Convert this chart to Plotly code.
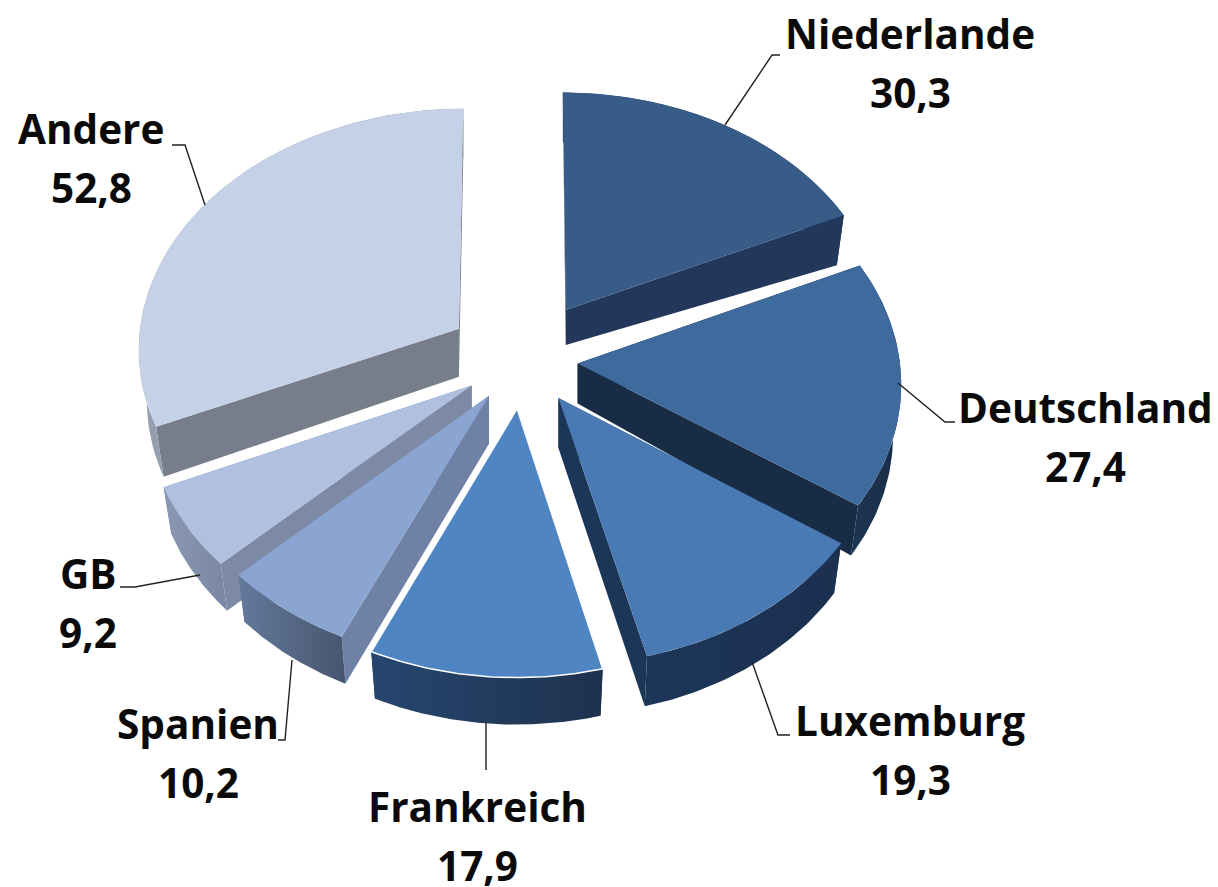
import math
import plotly.graph_objects as go

categories = ["Niederlande", "Deutschland", "Luxemburg", "Frankreich", "Spanien", "GB", "Andere"]
values = [30.3, 27.4, 19.3, 17.9, 10.2, 9.2, 52.8]
value_labels = ["30,3", "27,4", "19,3", "17,9", "10,2", "9,2", "52,8"]
explode = [0.25, 0.17, 0.19, 0.20, 0.18, 0.19, 0.24]
top_colors = ["#375C87", "#3F6A9E", "#4A7AB3", "#5085C3", "#8AA5D1", "#B0C0E0", "#C5D1E6"]
radial_colors = ["#22375A", "#182C45", "#1C3658", "#1C3050", "#6F82A5", "#7E8AA5", "#777D8A"]
rim_from = ["#22375A", "#1E3654", "#1C3658", "#26466F", "#64799C", "#8A98B3", "#95A0B0"]
rim_to = ["#22375A", "#182C45", "#1C3050", "#1E324E", "#47566F", "#7A87A2", "#7E8492"]
apex_depth = [35, 40, 50, 48, 48, 48, 48]
outer_depth = [50, 50, 50, 47, 47, 47, 50]
top_edge = [0, 0, 0, 1.5, 0, 0, 0]
draw_order = [0, 6, 1, 5, 4, 2, 3]

label_x = [910, 1085, 910, 477, 198, 88, 91]
label_y = [33, 407, 720, 806, 723, 573, 128]
value_gap = 59
leader_x = [[725, 772, 780], [898, 945, 955], [752, 778, 790], [486, 486], [292, 285, 278], [200, 135, 120], [205, 185, 172]]
leader_y = [[125, 55, 55], [383, 422, 422], [662, 735, 735], [722, 770], [660, 740, 740], [575, 587, 587], [205, 145, 145]]

CX, CY, RX, RY, PERSP = 523, 360, 322, 241, 0.075
XS = 0.975


def project(x, y):
    s = 1 / (1 + PERSP * y)
    return CX + RX * x * s, CY - RY * y * s


total = sum(values)
fig = go.Figure()
starts, a = [], 0.0
for v in values:
    starts.append(a)
    a += v / total * 2 * math.pi


def poly(xs, ys, color, gradient=None, edge=0):
    kw = dict(fillcolor=color)
    if gradient:
        kw = dict(fillgradient=dict(type="horizontal", colorscale=[[0, gradient[0]], [1, gradient[1]]]))
    fig.add_trace(go.Scatter(x=xs, y=ys, mode="lines", line=dict(width=edge, color="white"), fill="toself",
                             hoverinfo="skip", showlegend=False, **kw))


for i in draw_order:
    t0 = starts[i]
    t1 = t0 + values[i] / total * 2 * math.pi
    bis = (t0 + t1) / 2
    ex, ey = explode[i] * math.sin(bis), explode[i] * math.cos(bis)
    ax, ay = project(ex, ey)
    n = 60
    arc = [project(ex + math.sin(t0 + (t1 - t0) * k / n), ey + math.cos(t0 + (t1 - t0) * k / n)) for k in range(n + 1)]
    arc_low = [(ax + (p[0] - ax) * XS, p[1] + outer_depth[i]) for p in arc]
    apex_low = (ax, ay + apex_depth[i])
    for end, end_low in ((arc[0], arc_low[0]), (arc[-1], arc_low[-1])):
        xs = [ax, end[0], end_low[0], apex_low[0], ax]
        ys = [ay, end[1], end_low[1], apex_low[1], ay]
        poly(xs, ys, radial_colors[i])
    rx = [p[0] for p in arc] + [p[0] for p in reversed(arc_low)]
    ry = [p[1] for p in arc] + [p[1] for p in reversed(arc_low)]
    poly(rx + rx[:1], ry + ry[:1], None, gradient=(rim_from[i], rim_to[i]))
    tx = [ax] + [p[0] for p in arc] + [ax]
    ty = [ay] + [p[1] for p in arc] + [ay]
    poly(tx, ty, top_colors[i], edge=top_edge[i])

for i in range(len(categories)):
    fig.add_trace(go.Scatter(x=leader_x[i], y=leader_y[i], mode="lines", line=dict(color="#222222", width=1.4),
                             hoverinfo="skip", showlegend=False))
    for text, y in ((categories[i], label_y[i]), (value_labels[i], label_y[i] + value_gap)):
        fig.add_annotation(x=label_x[i], y=y, text=f"<b>{text}</b>", showarrow=False, xanchor="center", yanchor="middle",
                           font=dict(family="Open Sans", size=40.5, color="#0A0A0A"))

fig.update_layout(width=1218, height=887, margin=dict(l=0, r=0, t=0, b=0), paper_bgcolor="white", plot_bgcolor="white",
                  xaxis=dict(range=[0, 1218], visible=False), yaxis=dict(range=[887, 0], visible=False), showlegend=False)
fig.write_html("out.html", config=dict(displayModeBar=False), post_script="document.body.style.margin='0';")
